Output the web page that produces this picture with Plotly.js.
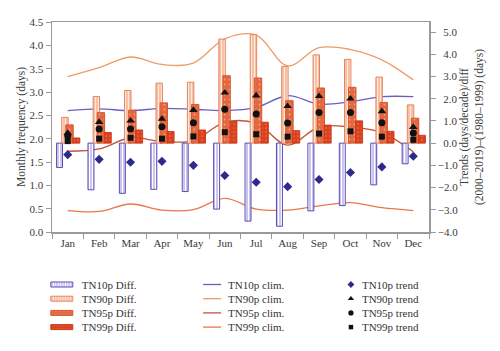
<!DOCTYPE html>
<html>
<head>
<meta charset="utf-8">
<script src="https://cdn.plot.ly/plotly-3.0.1.min.js"></script>
<style>html,body{margin:0;padding:0;background:#fff}#chart{width:500px;height:351px}</style>
</head>
<body>
<div id="chart"></div>
<script>
var months = ['Jan','Feb','Mar','Apr','May','Jun','Jul','Aug','Sep','Oct','Nov','Dec'];

// Differences (2000–2019)–(1980–1999), days (right axis)
var tn10Diff = [-1.10,-2.10,-2.26,-2.08,-2.18,-2.97,-3.51,-3.74,-3.05,-2.81,-1.88,-0.93];
var tn90Diff = [1.16,2.10,2.37,2.70,2.74,4.68,4.88,3.45,3.97,3.77,2.97,1.72];
var tn95Diff = [0.82,1.37,1.48,1.81,1.74,3.03,2.93,1.91,2.48,2.51,1.83,1.12];
var tn99Diff = [0.23,0.48,0.59,0.52,0.59,0.98,0.94,0.56,0.81,1.00,0.53,0.35];

// Climatology, monthly frequency (days) (left axis)
var tn10Clim = [2.60,2.64,2.60,2.65,2.63,2.60,2.67,2.92,2.74,2.79,2.90,2.90];
var tn90Clim = [3.33,3.52,3.75,3.59,3.62,4.14,4.22,3.56,3.95,3.91,3.69,3.26];
var tn95Clim = [1.73,1.78,2.02,1.94,1.96,2.35,2.33,1.86,2.25,2.25,2.13,1.72];
var tn99Clim = [0.46,0.44,0.60,0.47,0.48,0.72,0.49,0.47,0.56,0.63,0.52,0.46];

// Trends, days/decade (right axis)
var tn10Trend = [-0.52,-0.73,-0.86,-0.82,-1.00,-1.46,-1.76,-1.96,-1.64,-1.32,-1.07,-0.59];
var tn90Trend = [0.45,0.95,1.01,1.09,1.49,2.27,2.14,1.66,2.11,2.00,1.43,0.72];
var tn95Trend = [0.33,0.63,0.63,0.74,0.92,1.52,1.31,0.90,1.38,1.38,0.92,0.46];
var tn99Trend = [0.09,0.20,0.24,0.20,0.30,0.49,0.40,0.29,0.43,0.53,0.29,0.15];

// Right-axis tick labels
var rightTickVals = [-4,-3,-2,-1,0,1,2,3,4,5];
var rightTickText = ['\u22124.0','\u22123.0','\u22122.0','\u22121.0','\u20070.0','\u20071.0','\u20072.0','\u20073.0','\u20074.0','\u20075.0'];

function barTrace(name, y, off, w, bg, fg, shape, lineCol, size, sol){
  return {type:'bar', name:name, x:months, y:y, yaxis:'y2', offset:off, width:w,
    legend:'legend',
    marker:{color:bg, line:{color:lineCol, width:1},
      pattern:{shape:shape, fgcolor:fg, bgcolor:bg, size:size, solidity:sol}}};
}
function lineTrace(name, y, col){
  return {type:'scatter', mode:'lines', name:name, x:months, y:y, yaxis:'y', legend:'legend2',
    line:{color:col, width:1.3, shape:'spline', smoothing:1}};
}
function markTrace(name, y, sym, col, size){
  return {type:'scatter', mode:'markers', name:name, x:months, y:y, yaxis:'y2', legend:'legend3',
    marker:{symbol:sym, color:col, size:size}};
}

var data = [
  barTrace('TN10p Diff.', tn10Diff, -0.355, 0.19, '#cbc6ee', '#ffffff', '|', '#5a4db3', 3, 0.35),
  barTrace('TN90p Diff.', tn90Diff, -0.19, 0.205, '#f5c2a7', '#fde8dc', '|', '#e8845c', 3, 0.35),
  barTrace('TN95p Diff.', tn95Diff, -0.06, 0.235, '#e4683f', '#f0a488', '.', '#d5552f', 5, 0.1),
  barTrace('TN99p Diff.', tn99Diff, 0.165, 0.22, '#d9411f', '#ea7452', '.', '#cf3a19', 4, 0.15),
  lineTrace('TN10p clim.', tn10Clim, '#6a5ec6'),
  lineTrace('TN90p clim.', tn90Clim, '#ee9c66'),
  lineTrace('TN95p clim.', tn95Clim, '#c1553b'),
  lineTrace('TN99p clim.', tn99Clim, '#e8774a'),
  markTrace('TN10p trend', tn10Trend, 'diamond', '#2e2a8c', 7),
  markTrace('TN90p trend', tn90Trend, 'triangle-up', '#111111', 7.5),
  markTrace('TN95p trend', tn95Trend, 'circle', '#111111', 7),
  markTrace('TN99p trend', tn99Trend, 'square', '#111111', 6)
];

var axCol = '#9a9a9a';
var legBase = {xanchor:'left', yanchor:'top', y:-0.1, bgcolor:'rgba(0,0,0,0)',
  font:{family:'Liberation Serif, serif', size:11, color:'#333'}, tracegroupgap:0};

var layout = {
  width:500, height:351,
  margin:{l:52, r:71, t:22, b:99},
  paper_bgcolor:'#ffffff', plot_bgcolor:'#ffffff',
  font:{family:'Liberation Serif, serif', size:11, color:'#3a3a3a'},
  barmode:'overlay',
  showlegend:true,
  xaxis:{type:'category', range:[-0.5,11.5], tickson:'boundaries', ticks:'outside', ticklen:5,
    tickcolor:axCol, tickwidth:1, showline:true, linecolor:axCol, linewidth:1.5, mirror:true,
    showgrid:false, zeroline:false, fixedrange:true},
  yaxis:{range:[0,4.5], dtick:0.5, tick0:0, tickformat:'.1f', ticks:'outside', ticklen:5,
    tickcolor:axCol, showline:true, linecolor:axCol, linewidth:1.5, showgrid:false, zeroline:false,
    title:{text:'Monthly frequency (days)', font:{size:11.5}, standoff:1}},
  yaxis2:{overlaying:'y', side:'right', range:[-4.0,5.45], tickmode:'array',
    tickvals:rightTickVals, ticktext:rightTickText,
    ticks:'outside', ticklen:5, tickcolor:axCol, showline:true, linecolor:axCol, linewidth:1.5,
    showgrid:false, zeroline:false,
    title:{text:'Trends (days/decade)/diff<br>(2000–2019)–(1980–1999) (days)', font:{size:11.5}, standoff:2}},
  legend:Object.assign({}, legBase, {x:-0.027}),
  legend2:Object.assign({}, legBase, {x:0.361}),
  legend3:Object.assign({}, legBase, {x:0.716})
};

var ROWGAP = 14.2, ROWSHIFT = 17;
function tweak(){
  var gd = document.getElementById('chart');
  ['legend','legend2','legend3'].forEach(function(id){
    var lg = gd.querySelector('g.' + id);
    if(!lg) return;
    var items = lg.querySelectorAll('g.traces');
    var y0 = null;
    for(var i=0;i<items.length;i++){
      var t = items[i].getAttribute('transform') || '';
      var m = /translate\(\s*([-\d.e]+)[,\s]+([-\d.e]+)\s*\)/.exec(t);
      if(!m) continue;
      if(y0 === null) y0 = +m[2];
      items[i].setAttribute('transform','translate(' + m[1] + ',' + (y0 + ROWSHIFT + i*ROWGAP) + ')');
    }
  });
  gd.querySelectorAll('g.legendpoints path').forEach(function(p){
    var d = p.getAttribute('d') || '';
    if(d.indexOf('M6,6H-6V-6H6Z') === 0){ p.setAttribute('d','M11,2.5H-11V-2.5H11Z'); }
  });
  gd.querySelectorAll('g.legendlines path').forEach(function(p){
    p.setAttribute('d','M15,0h18');
  });
  gd.querySelectorAll('g.legend3 g.legendpoints path.scatterpts').forEach(function(p){
    p.setAttribute('transform','translate(29,0) scale(0.75)');
  });
}

Plotly.newPlot('chart', data, layout, {displayModeBar:false, staticPlot:true}).then(function(gd){
  tweak();
  gd.on && gd.on('plotly_afterplot', tweak);
});
</script>
</body>
</html>
